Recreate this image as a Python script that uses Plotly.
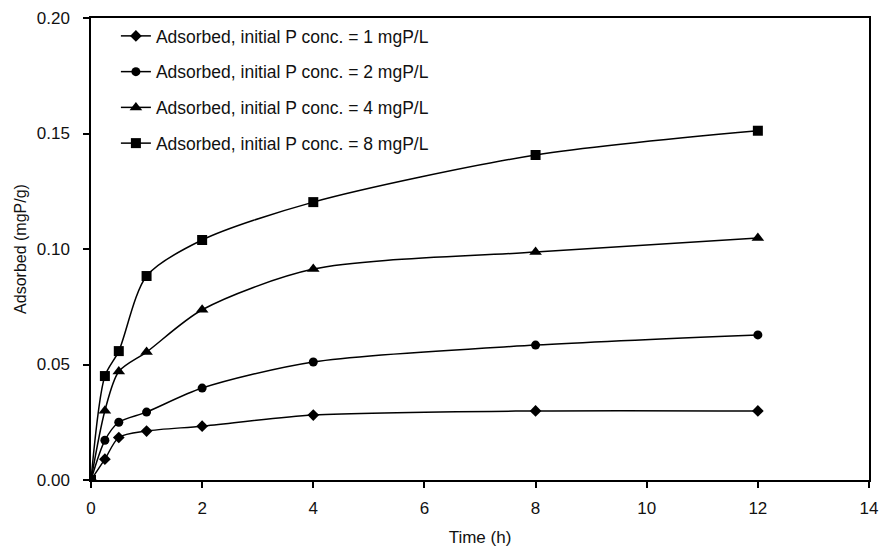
import plotly.graph_objects as go

time_h = [0, 0.25, 0.5, 1, 2, 4, 8, 12]
ads_1 = [0, 0.0090, 0.0184, 0.0212, 0.0233, 0.0281, 0.0299, 0.0299]
ads_2 = [0, 0.0172, 0.0250, 0.0294, 0.0398, 0.0511, 0.0584, 0.0628]
ads_4 = [0, 0.0300, 0.0470, 0.0554, 0.0737, 0.0913, 0.0987, 0.1048]
ads_8 = [0, 0.0450, 0.0558, 0.0883, 0.1039, 0.1203, 0.1407, 0.1512]
names = ["Adsorbed, initial P conc. = 1 mgP/L",
         "Adsorbed, initial P conc. = 2 mgP/L",
         "Adsorbed, initial P conc. = 4 mgP/L",
         "Adsorbed, initial P conc. = 8 mgP/L"]
symbols = ["diamond", "circle", "triangle-up", "square"]
sizes = [9, 9, 11, 10]
series = [ads_1, ads_2, ads_4, ads_8]

FONT = "Liberation Sans, Arial, sans-serif"

fig = go.Figure()
for i, (y, n, s, sz) in enumerate(zip(series, names, symbols, sizes)):
    fig.add_trace(go.Scatter(
        x=time_h, y=y, name=n, mode="lines+markers", legendgroup=f"g{i}",
        line=dict(color="black", width=1.5, shape="spline", smoothing=0.8),
        marker=dict(symbol=s, size=sz, color="black"),
    ))

fig.update_layout(
    width=882, height=550,
    margin=dict(l=91, r=13, t=18, b=70),
    paper_bgcolor="white", plot_bgcolor="white",
    font=dict(family=FONT, size=17, color="#111"),
    showlegend=True,
    legend=dict(x=0.032, y=1.0, xanchor="left", yanchor="top",
                bgcolor="rgba(0,0,0,0)", font=dict(size=17.5),
                itemwidth=30, tracegroupgap=10),
)
fig.update_xaxes(range=[0, 14], tickvals=[0, 2, 4, 6, 8, 10, 12, 14],
                 showline=True, linecolor="black", linewidth=1.5, mirror=True,
                 ticks="outside", ticklen=6, tickwidth=1.5, tickcolor="black",
                 ticklabelstandoff=6, automargin=False,
                 showgrid=False, zeroline=False,
                 title=dict(text="Time (h)", font=dict(size=17), standoff=14))
fig.update_yaxes(range=[0, 0.20], tickvals=[0, 0.05, 0.10, 0.15, 0.20], tickformat=".2f",
                 showline=True, linecolor="black", linewidth=1.5, mirror=True,
                 ticks="outside", ticklen=6, tickwidth=1.5, tickcolor="black",
                 ticklabelstandoff=10, automargin=False,
                 showgrid=False, zeroline=False,
                 title=dict(text="Adsorbed (mgP/g)", font=dict(size=16), standoff=6))

fig.write_html("out.html")
